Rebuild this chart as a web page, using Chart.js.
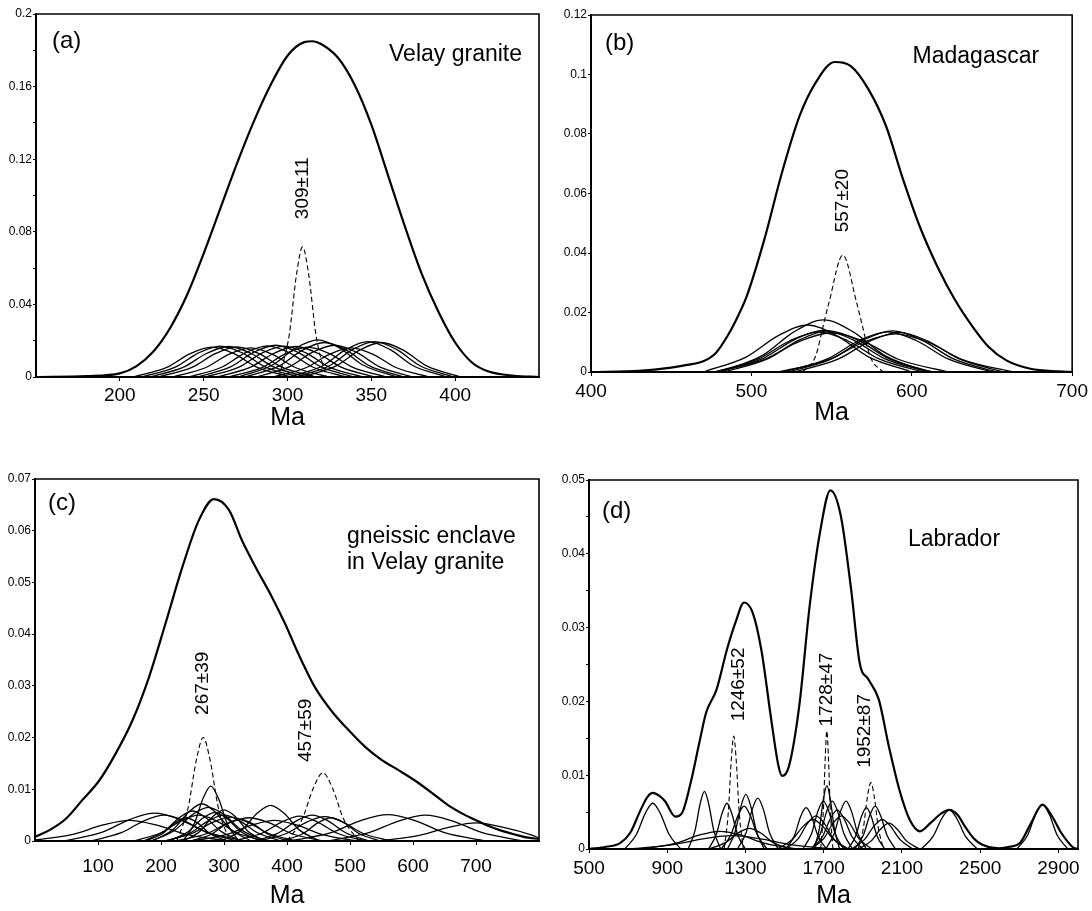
<!DOCTYPE html>
<html>
<head>
<meta charset="utf-8">
<script src="https://cdn.jsdelivr.net/npm/chart.js@4.4.1/dist/chart.umd.min.js"></script>
<style>
  html, body { margin: 0; padding: 0; background: #fff; }
  #wrap { position: relative; width: 1092px; height: 911px; overflow: hidden; }
  canvas { position: absolute; }
</style>
</head>
<body>
<div id="wrap">
  <canvas id="pa" width="560" height="440" style="left:0;top:0"></canvas>
  <canvas id="pb" width="552" height="440" style="left:540px;top:0"></canvas>
  <canvas id="pc" width="560" height="451" style="left:0;top:460px"></canvas>
  <canvas id="pd" width="552" height="451" style="left:540px;top:460px"></canvas>
</div>
<script>
// ---- (a) Velay granite ----
const aMainAge = [150,180,200,210,220,230,240,250,260,270,280,290,300,310,315,320,330,340,350,360,370,380,390,400,410,420,435,450];
const aMainProb = [0,0.0005,0.002,0.006,0.014,0.027,0.045,0.068,0.093,0.118,0.141,0.161,0.177,0.1845,0.185,0.1835,0.176,0.161,0.139,0.111,0.083,0.057,0.036,0.019,0.008,0.003,0.0007,0];
const aDashed = [[[295,0],[301,0.023],[305.3,0.056],[309,0.0717],[312.7,0.056],[317,0.023],[323,0]]];
const aGrains = [
  [[208,0],[228,.0053],[242,.0129],[255,.0165],[268,.0129],[282,.0053],[302,0]],
  [[213,0],[233,.0054],[247,.0133],[260,.017],[273,.0133],[287,.0054],[307,0]],
  [[218,0],[238,.0054],[252,.0131],[265,.0168],[278,.0131],[292,.0054],[312,0]],
  [[223,0],[243,.0053],[257,.0129],[270,.0166],[283,.0129],[297,.0053],[317,0]],
  [[231,0],[251,.0051],[265,.0125],[278,.016],[291,.0125],[305,.0051],[325,0]],
  [[241,0],[261,.0055],[275,.0134],[288,.0172],[301,.0134],[315,.0055],[335,0]],
  [[246,0],[266,.0056],[280,.0137],[293,.0175],[306,.0137],[320,.0056],[340,0]],
  [[251,0],[271,.0054],[285,.0133],[298,.017],[311,.0133],[325,.0054],[345,0]],
  [[258,0],[278,.0054],[292,.0131],[305,.0168],[318,.0131],[332,.0054],[352,0]],
  [[265,0],[285,.0053],[299,.0129],[312,.0165],[325,.0129],[339,.0053],[359,0]],
  [[271,0],[291,.0066],[305,.016],[318,.0205],[331,.016],[345,.0066],[365,0]],
  [[275,0],[295,.0061],[309,.0148],[322,.019],[335,.0148],[349,.0061],[369,0]],
  [[281,0],[301,.0056],[315,.0137],[328,.0175],[341,.0137],[355,.0056],[375,0]],
  [[291,0],[311,.0051],[325,.0125],[338,.016],[351,.0125],[365,.0051],[385,0]],
  [[301,0],[321,.0062],[335,.0152],[348,.0195],[361,.0152],[375,.0062],[395,0]],
  [[305,0],[325,.0062],[339,.0152],[352,.0195],[365,.0152],[379,.0062],[399,0]],
  [[309,0],[329,.0061],[343,.0148],[356,.019],[369,.0148],[383,.0061],[403,0]]
];
const aXTicks = [200,250,300,350,400];
const aYTicks = [0,0.02,0.04,0.06,0.08,0.1,0.12,0.14,0.16,0.18,0.2];
const aYLabels = [0,0.04,0.08,0.12,0.16,0.2];

// ---- (b) Madagascar ----
const bMainAge = [400,430,450,460,470,478,485,490,497,508,519,530,540,552,562,573,584,594,605,616,627,638,648,659,674,692,700];
const bMainProb = [0,0.0004,0.0015,0.0024,0.0036,0.0065,0.012,0.017,0.0253,0.0444,0.0669,0.086,0.0972,0.1042,0.1028,0.095,0.0826,0.0657,0.0489,0.0354,0.0242,0.0152,0.0084,0.0039,0.0011,0.0002,0];
const bDashed = [[[532,0],[540,.0053],[545,.016],[548.5,.0236],[557,.0393],[565.5,.0236],[569,.016],[574,.0053],[582,0]]];
const bGrains = [
  [[480,0],[507,.0056],[527,.01365],[545,.0175],[563,.01365],[583,.0056],[610,0]],
  [[470,0],[497,.0051],[517,.0123],[535,.0158],[553,.0123],[573,.0051],[600,0]],
  [[480,0],[507,.0045],[527,.0109],[545,.014],[563,.0109],[583,.0045],[610,0]],
  [[483,0],[510,.0044],[530,.0108],[548,.0138],[566,.0108],[586,.0044],[613,0]],
  [[477,0],[504,.0043],[524,.0105],[542,.0135],[560,.0105],[580,.0043],[607,0]],
  [[477,0],[508,.0042],[530,.0103],[550,.0132],[570,.0103],[592,.0042],[623,0]],
  [[520,0],[547,.0043],[567,.0105],[585,.0135],[603,.0105],[623,.0043],[650,0]],
  [[523,0],[550,.0044],[570,.0108],[588,.0138],[606,.0108],[626,.0044],[653,0]],
  [[527,0],[554,.0043],[574,.0104],[592,.0133],[610,.0104],[630,.0043],[657,0]],
  [[517,0],[548,.0041],[570,.01],[590,.0128],[610,.01],[632,.0041],[663,0]]
];
const bXTicks = [400,500,600,700];
const bYTicks = [0,0.02,0.04,0.06,0.08,0.1,0.12];
const bYLabels = bYTicks;

// ---- (c) gneissic enclave ----
const cMainAge = [0,23,49,75,102,128,155,181,207,234,260,284,308,329,350,376,397,418,445,471,498,524,550,577,603,630,656,680,700,720,740,760,780,800];
const cMainProb = [0.0008,0.0021,0.0043,0.0079,0.0117,0.0169,0.0234,0.0317,0.042,0.053,0.062,0.0661,0.064,0.058,0.053,0.0472,0.042,0.0362,0.0296,0.0251,0.0214,0.0182,0.0157,0.0137,0.0117,0.0093,0.0069,0.0052,0.004,0.0029,0.002,0.0013,0.0007,0.0004];
const cDashed = [
  [[225,0],[243,.0064],[256,.0156],[267,.02],[278,.0156],[291,.0064],[309,0]],
  [[400,0],[424,.0042],[442,.0103],[457,.0132],[472,.0103],[490,.0042],[514,0]]
];
const cGrains = [
  [[235,0],[253,.0034],[267,.0083],[279,.0106],[291,.0083],[305,.0034],[323,0]],
  [[187,0],[220,.0023],[244,.0056],[265,.0072],[286,.0056],[310,.0023],[343,0]],
  [[184,0],[222,.0021],[250,.0051],[275,.0065],[300,.0051],[328,.0021],[366,0]],
  [[47,0],[107,.0017],[151,.0042],[190,.0054],[229,.0042],[273,.0017],[333,0]],
  [[88,0],[137,.0016],[173,.0039],[205,.005],[237,.0039],[273,.0016],[322,0]],
  [[172,0],[205,.0019],[229,.0045],[250,.0058],[271,.0045],[295,.0019],[328,0]],
  [[156,0],[200,.0016],[232,.0039],[260,.005],[288,.0039],[320,.0016],[364,0]],
  [[212,0],[243,.0018],[265,.0043],[285,.0055],[305,.0043],[327,.0018],[358,0]],
  [[209,0],[247,.0016],[275,.0039],[300,.005],[325,.0039],[353,.0016],[391,0]],
  [[206,0],[250,.0015],[282,.0036],[310,.0046],[338,.0036],[370,.0015],[414,0]],
  [[247,0],[280,.0013],[304,.0033],[325,.0042],[346,.0033],[370,.0013],[403,0]],
  [[296,0],[329,.0022],[353,.0054],[374,.0069],[395,.0054],[419,.0022],[452,0]],
  [[316,0],[360,.0015],[392,.0037],[420,.0048],[448,.0037],[480,.0015],[524,0]],
  [[349,0],[387,.0016],[415,.0039],[440,.005],[465,.0039],[493,.0016],[531,0]],
  [[356,0],[400,.0015],[432,.0037],[460,.0047],[488,.0037],[520,.0015],[564,0]],
  [[392,0],[425,.0014],[449,.0035],[470,.0045],[491,.0035],[515,.0014],[548,0]],
  [[223,0],[272,.0014],[308,.0035],[340,.0045],[372,.0035],[408,.0014],[457,0]],
  [[404,0],[470,.0016],[518,.004],[560,.0051],[602,.004],[650,.0016],[716,0]],
  [[464,0],[530,.0016],[578,.0039],[620,.005],[662,.0039],[710,.0016],[776,0]],
  [[175,0],[202,.0014],[222,.0035],[240,.0045],[258,.0035],[278,.0014],[305,0]],
  [[235,0],[262,.0019],[282,.0047],[300,.006],[318,.0047],[338,.0019],[365,0]],
  [[250,0],[305,.0013],[345,.0031],[380,.004],[415,.0031],[455,.0013],[510,0]],
  [[0,.0002],[60,.0013],[108,.0031],[150,.004],[192,.0031],[240,.0013],[306,0]],
  [[544,0],[610,.0011],[658,.0027],[700,.0035],[742,.0027],[790,.0011],[800,.0006]]
];
const cXTicks = [100,200,300,400,500,600,700];
const cYTicks = [0,0.01,0.02,0.03,0.04,0.05,0.06,0.07];
const cYLabels = cYTicks;

// ---- (d) Labrador ----
const dMainAge = [500,588,659,711,764,800,826,860,888,941,976,1020,1064,1099,1152,1205,1249,1293,1337,1381,1434,1469,1487,1522,1575,1628,1681,1734,1787,1840,1884,1928,1981,2033,2086,2139,2192,2245,2300,2342,2385,2421,2465,2509,2597,2650,2703,2760,2818,2870,2914,2976,3000];
const dMainProb = [0,0.0003,0.0008,0.0022,0.0053,0.0071,0.0076,0.0072,0.0065,0.0044,0.0049,0.009,0.0144,0.0185,0.0216,0.027,0.0307,0.0334,0.032,0.027,0.0171,0.0112,0.0099,0.0112,0.0194,0.0329,0.0429,0.0486,0.0452,0.0352,0.0252,0.023,0.0203,0.0139,0.0081,0.004,0.0024,0.0035,0.0048,0.0053,0.0046,0.0031,0.0015,0.0006,0.0001,0.0003,0.0008,0.0035,0.006,0.0043,0.0022,0.0002,0];
const dDashed = [
  [[1191,0],[1212,.0049],[1227,.0119],[1240,.0153],[1253,.0119],[1268,.0049],[1289,0]],
  [[1685,0],[1698,.0051],[1708,.0125],[1716,.016],[1724,.0125],[1734,.0051],[1747,0]],
  [[1876,0],[1903,.0029],[1923,.007],[1941,.009],[1959,.007],[1979,.0029],[2006,0]]
];
const dGrains = [
  [[683,0],[743,.002],[787,.0048],[826,.0062],[865,.0048],[909,.002],[969,0]],
  [[1007,0],[1042,.0025],[1068,.0061],[1090,.0078],[1112,.0061],[1138,.0025],[1173,0]],
  [[1111,0],[1151,.002],[1180,.0048],[1205,.0062],[1230,.0048],[1259,.002],[1299,0]],
  [[1208,0],[1248,.0024],[1277,.0058],[1302,.0074],[1327,.0058],[1356,.0024],[1396,0]],
  [[1259,0],[1303,.0022],[1335,.0054],[1363,.0069],[1391,.0054],[1423,.0022],[1467,0]],
  [[1176,0],[1225,.0019],[1261,.0045],[1293,.0058],[1325,.0045],[1361,.0019],[1410,0]],
  [[780,0],[945,.0008],[1065,.0019],[1170,.0024],[1275,.0019],[1395,.0008],[1560,0]],
  [[710,0],[930,.0006],[1090,.0014],[1230,.0018],[1370,.0014],[1530,.0006],[1750,0]],
  [[1112,0],[1200,.0009],[1264,.0022],[1320,.0028],[1376,.0022],[1440,.0009],[1528,0]],
  [[1506,0],[1550,.0018],[1582,.0044],[1610,.0056],[1638,.0044],[1670,.0018],[1714,0]],
  [[1463,0],[1540,.0013],[1596,.0031],[1645,.004],[1694,.0031],[1750,.0013],[1827,0]],
  [[1651,0],[1678,.0028],[1698,.0067],[1716,.0086],[1734,.0067],[1754,.0028],[1781,0]],
  [[1594,0],[1638,.0021],[1670,.0051],[1698,.0065],[1726,.0051],[1758,.0021],[1802,0]],
  [[1639,0],[1683,.0021],[1715,.0051],[1743,.0065],[1771,.0051],[1803,.0021],[1847,0]],
  [[1710,0],[1754,.0021],[1786,.0051],[1814,.0065],[1842,.0051],[1874,.0021],[1918,0]],
  [[1639,0],[1694,.0017],[1734,.0041],[1769,.0053],[1804,.0041],[1844,.0017],[1899,0]],
  [[1824,0],[1864,.0018],[1893,.0044],[1918,.0056],[1943,.0044],[1972,.0018],[2012,0]],
  [[1859,0],[1903,.0019],[1935,.0045],[1963,.0058],[1991,.0045],[2023,.0019],[2067,0]],
  [[1843,0],[1909,.0013],[1957,.0031],[1999,.004],[2041,.0031],[2089,.0013],[2155,0]],
  [[1877,0],[1943,.0011],[1991,.0027],[2033,.0035],[2075,.0027],[2123,.0011],[2189,0]],
  [[2199,0],[2259,.0017],[2303,.0041],[2342,.0053],[2381,.0041],[2425,.0017],[2485,0]],
  [[2688,0],[2743,.0019],[2783,.0047],[2818,.006],[2853,.0047],[2893,.0019],[2948,0]],
  [[1504,0],[1570,.0014],[1618,.0035],[1660,.0045],[1702,.0035],[1750,.0014],[1816,0]],
  [[1634,0],[1700,.0014],[1748,.0035],[1790,.0045],[1832,.0035],[1880,.0014],[1946,0]]
];
const dXTicks = [500,900,1300,1700,2100,2500,2900];
const dYTicks = [0,0.005,0.01,0.015,0.02,0.025,0.03,0.035,0.04,0.045,0.05];
const dYLabels = [0,0.01,0.02,0.03,0.04,0.05];

const FONT = "'Liberation Sans', Arial, sans-serif";

const toPts = (arr) => arr.map(([x, y]) => ({ x, y }));
const fmt = (v) => String(+v.toFixed(3));

// frame (top/right), panel letter, captions, rotated age labels
const decor = {
  id: "decor",
  afterDatasetsDraw(chart, args, o) {
    const { ctx, chartArea: ca, scales } = chart;
    ctx.save();
    ctx.strokeStyle = "#000";
    ctx.lineWidth = 1.6;
    ctx.beginPath();
    ctx.moveTo(ca.left, ca.top);
    ctx.lineTo(ca.right, ca.top);
    ctx.lineTo(ca.right, ca.bottom);
    ctx.stroke();

    ctx.fillStyle = "#000";
    ctx.textBaseline = "middle";
    ctx.font = `24px ${FONT}`;
    ctx.textAlign = "left";
    ctx.fillText(o.letter, ca.left + o.letterAt[0], ca.top + o.letterAt[1]);

    ctx.font = `23px ${FONT}`;
    o.caption.forEach((c) => {
      ctx.textAlign = c.align;
      const x = c.align === "right" ? ca.right + c.dx : ca.left + c.dx;
      ctx.fillText(c.text, x, ca.top + c.dy);
    });

    ctx.font = `19px ${FONT}`;
    ctx.textAlign = "center";
    o.ages.forEach((a) => {
      const px = scales.x.getPixelForValue(a.x);
      const py = scales.y.getPixelForValue(a.y);
      ctx.save();
      ctx.translate(px, py);
      ctx.rotate(-Math.PI / 2);
      ctx.fillText(a.text, 0, 0);
      ctx.restore();
    });
    ctx.restore();
  },
};

function makePanel(id, p) {
  const datasets = [];
  p.grains.forEach((g) =>
    datasets.push({
      data: toPts(g),
      showLine: true,
      borderColor: "#000",
      borderWidth: 1.3,
      pointRadius: 0,
      cubicInterpolationMode: "monotone",
    })
  );
  p.dashed.forEach((g) =>
    datasets.push({
      data: toPts(g),
      showLine: true,
      borderColor: "#000",
      borderWidth: 1.1,
      borderDash: [5, 3],
      pointRadius: 0,
      cubicInterpolationMode: "monotone",
    })
  );
  datasets.push({
    data: p.age.map((x, i) => ({ x, y: p.prob[i] })),
    showLine: true,
    borderColor: "#000",
    borderWidth: 2.2,
    pointRadius: 0,
    cubicInterpolationMode: "monotone",
  });

  new Chart(document.getElementById(id), {
    type: "scatter",
    data: { datasets },
    options: {
      responsive: false,
      animation: false,
      devicePixelRatio: 1,
      layout: { padding: { top: p.padTop, right: p.padRight, left: 0, bottom: 0 } },
      plugins: {
        legend: { display: false },
        tooltip: { enabled: false },
        decor: p.decor,
      },
      scales: {
        x: {
          type: "linear",
          min: p.xMin,
          max: p.xMax,
          afterBuildTicks: (s) => { s.ticks = p.xTicks.map((v) => ({ value: v })); },
          afterFit: (s) => { s.height = p.xH; },
          grid: { drawOnChartArea: false, tickLength: 4, color: "#000", lineWidth: 1 },
          border: { color: "#000", width: 2 },
          ticks: {
            color: "#000",
            font: { family: FONT, size: 19 },
            padding: p.xPad,
            maxRotation: 0,
            autoSkip: false,
            callback: (v) => String(v),
          },
          title: {
            display: true,
            text: "Ma",
            color: "#000",
            font: { family: FONT, size: 25 },
            padding: { top: 0, bottom: p.maPad },
          },
        },
        y: {
          type: "linear",
          min: p.yMin,
          max: p.yMax,
          afterBuildTicks: (s) => { s.ticks = p.yTicks.map((v) => ({ value: v })); },
          afterFit: (s) => { s.width = p.yW; },
          grid: { drawOnChartArea: false, tickLength: 3, color: "#000", lineWidth: 1 },
          border: { color: "#000", width: 2 },
          ticks: {
            color: "#000",
            font: { family: FONT, size: 12 },
            padding: 1,
            autoSkip: false,
            callback: (v) => (p.yLabels.some((l) => Math.abs(l - v) < 1e-9) ? fmt(v) : ""),
          },
        },
      },
    },
    plugins: [decor],
  });
}

makePanel("pa", {
  age: aMainAge, prob: aMainProb, grains: aGrains, dashed: aDashed,
  xMin: 150, xMax: 450, yMin: 0, yMax: 0.2,
  xTicks: aXTicks, yTicks: aYTicks, yLabels: aYLabels,
  padTop: 14, padRight: 21, yW: 36, xH: 63, xPad: 3, maPad: 7,
  decor: {
    letter: "(a)", letterAt: [16, 27],
    caption: [{ text: "Velay granite", align: "right", dx: -17, dy: 41 }],
    ages: [{ text: "309\u00b111", x: 309, y: 0.104 }],
  },
});

makePanel("pb", {
  age: bMainAge, prob: bMainProb, grains: bGrains, dashed: bDashed,
  xMin: 400, xMax: 700, yMin: 0, yMax: 0.12,
  xTicks: bXTicks, yTicks: bYTicks, yLabels: bYLabels,
  padTop: 15, padRight: 17, yW: 51, xH: 68, xPad: 4, maPad: 12,
  decor: {
    letter: "(b)", letterAt: [14, 28],
    caption: [{ text: "Madagascar", align: "right", dx: -33, dy: 42 }],
    ages: [{ text: "557\u00b120", x: 557, y: 0.0576 }],
  },
});

makePanel("pc", {
  age: cMainAge, prob: cMainProb, grains: cGrains, dashed: cDashed,
  xMin: 0, xMax: 800, yMin: 0, yMax: 0.07,
  xTicks: cXTicks, yTicks: cYTicks, yLabels: cYLabels,
  padTop: 19, padRight: 21, yW: 35, xH: 70, xPad: 10, maPad: 0,
  decor: {
    letter: "(c)", letterAt: [13, 24],
    caption: [
      { text: "gneissic enclave", align: "left", dx: 312, dy: 58 },
      { text: "in Velay granite", align: "left", dx: 312, dy: 84 },
    ],
    ages: [
      { text: "267\u00b139", x: 266, y: 0.0305 },
      { text: "457\u00b159", x: 430, y: 0.0214 },
    ],
  },
});

makePanel("pd", {
  age: dMainAge, prob: dMainProb, grains: dGrains, dashed: dDashed,
  xMin: 500, xMax: 3000, yMin: 0, yMax: 0.05,
  xTicks: dXTicks, yTicks: dYTicks, yLabels: dYLabels,
  padTop: 20, padRight: 14, yW: 49, xH: 62, xPad: 4, maPad: 0,
  decor: {
    letter: "(d)", letterAt: [13, 31],
    caption: [{ text: "Labrador", align: "left", dx: 319, dy: 60 }],
    ages: [
      { text: "1246\u00b152", x: 1266, y: 0.0223 },
      { text: "1728\u00b147", x: 1716, y: 0.0216 },
      { text: "1952\u00b187", x: 1910, y: 0.016 },
    ],
  },
});
</script>
</body>
</html>
